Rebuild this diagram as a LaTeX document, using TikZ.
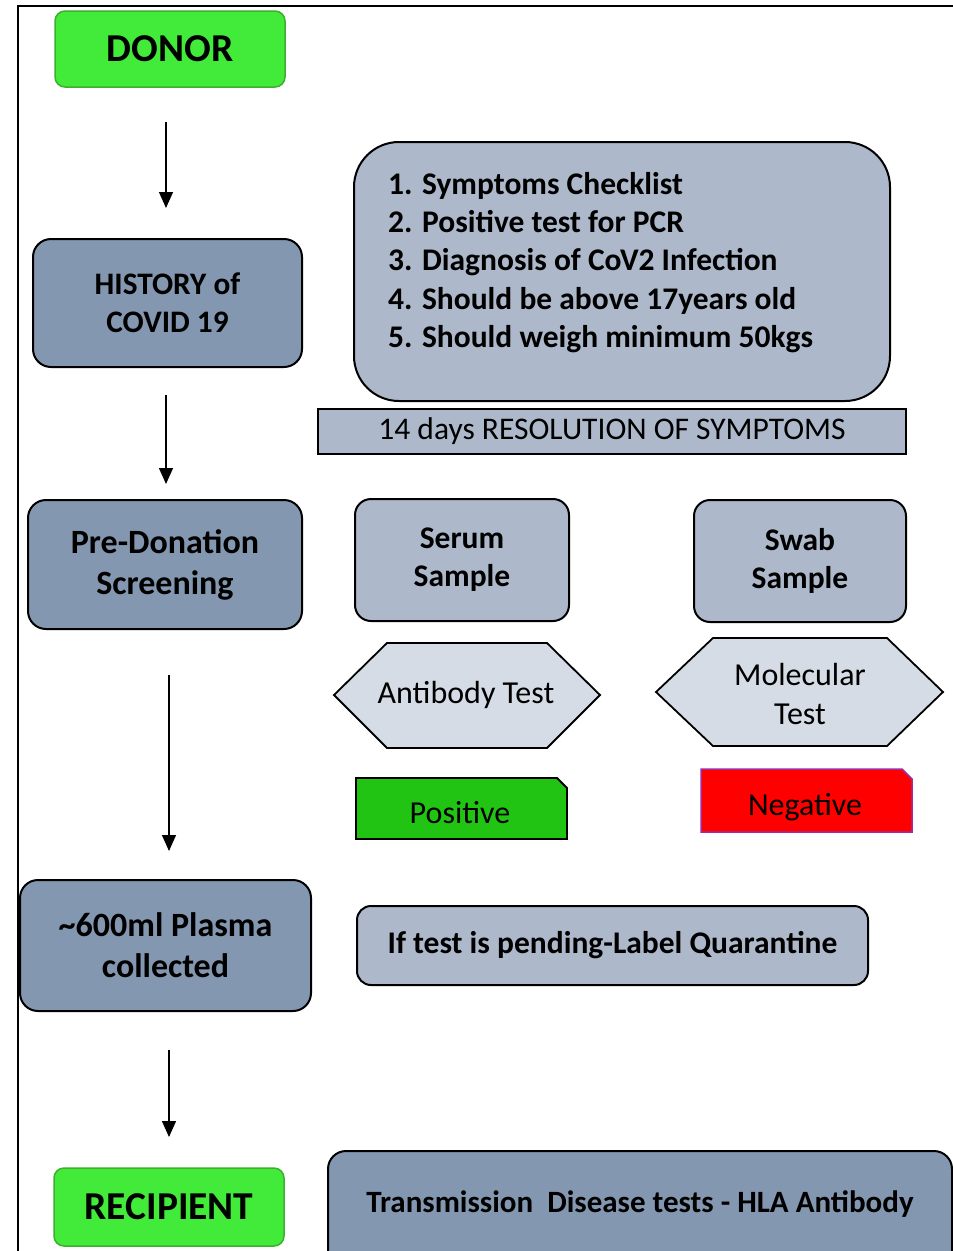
\documentclass[tikz,border=0pt]{standalone}
\usepackage{fontspec}
\setmainfont{Carlito}
\usetikzlibrary{arrows.meta}
\definecolor{dgreen}{RGB}{66,235,58}
\definecolor{dgreenb}{RGB}{60,175,46}
\definecolor{pgreen}{RGB}{34,196,20}
\definecolor{slate}{RGB}{132,151,176}
\definecolor{light}{RGB}{173,185,202}
\definecolor{hexfill}{RGB}{214,220,229}
\definecolor{negborder}{RGB}{160,44,160}
\tikzset{
  greenbox/.style={draw=dgreenb, fill=dgreen, line width=1.5pt, rounded corners=10pt, font=\fontsize{39.5}{45}\selectfont\bfseries, inner sep=0pt},
  darkbox/.style={draw=black, fill=slate, line width=2pt, rounded corners=18pt, align=center, inner sep=0pt},
  lightbox/.style={draw=black, fill=light, line width=2pt, rounded corners=16pt, align=center, inner sep=0pt, font=\fontsize{31.5}{38}\selectfont\bfseries},
  bodytxt/.style={font=\fontsize{32}{39}\selectfont, align=center, inner sep=0pt},
  arr/.style={line width=1.3pt, -{Triangle[length=16pt,width=14pt]}},
  hexshape/.style={draw=black, fill=hexfill, line width=1.8pt, line join=miter},
}
\begin{document}
\begin{tikzpicture}[x=1pt,y=-1pt]
\clip (0,0) rectangle (953,1251);
\fill[white] (0,0) rectangle (953,1251);
% frame
\draw[line width=2pt] (18,1260) -- (18,6) -- (960,6);

% left column
\node[greenbox, minimum width=230pt, minimum height=76pt] (donor) at (170,49) {DONOR};
\node[darkbox, minimum width=269pt, minimum height=128pt, font=\fontsize{31.3}{38}\selectfont\bfseries] (history) at (167.5,303) {HISTORY of\\COVID 19};
\node[darkbox, minimum width=274pt, minimum height=129pt, font=\fontsize{34}{41}\selectfont\bfseries] (pre) at (165,564.5) {Pre-Donation\\Screening};
\node[darkbox, minimum width=291pt, minimum height=131pt, font=\fontsize{34}{41}\selectfont\bfseries] (plasma) at (165.5,945.5) {\textasciitilde600ml Plasma\\collected};
\node[greenbox, minimum width=230pt, minimum height=78pt] (recipient) at (169,1207) {RECIPIENT};

% arrows
\coordinate (a1s) at (166,122); \coordinate (a1e) at (166,208);
\coordinate (a2s) at (166,395); \coordinate (a2e) at (166,484);
\coordinate (a3s) at (169,675); \coordinate (a3e) at (169,851);
\coordinate (a4s) at (169,1050); \coordinate (a4e) at (169,1137);
\draw[arr] (a1s) -- (a1e);
\draw[arr] (a2s) -- (a2e);
\draw[arr] (a3s) -- (a3e);
\draw[arr] (a4s) -- (a4e);

% criteria box
\node[lightbox, rounded corners=45pt, minimum width=536pt, minimum height=259pt] (crit) at (622,271.5) {};
\node[font=\fontsize{31.5}{38.3}\selectfont\bfseries, align=left, inner sep=0pt, anchor=west] (crittext) at (388,262.5)
  {1. Symptoms Checklist\\2. Positive test for PCR\\3. Diagnosis of CoV2 Infection\\4. Should be above 17years old\\5. Should weigh minimum 50kgs};
\node[draw=black, fill=light, line width=2pt, minimum width=588pt, minimum height=45pt, bodytxt, font=\fontsize{31.5}{38}\selectfont] (days) at (612,431.5) {14 days RESOLUTION OF SYMPTOMS};

% samples
\node[lightbox, minimum width=214pt, minimum height=122pt] (serum) at (462,560) {Serum\\Sample};
\node[lightbox, minimum width=212pt, minimum height=122pt] (swab) at (800,561) {Swab\\Sample};

% hexagons
\draw[hexshape] (334,695) -- (387,643) -- (547,643) -- (600,695) -- (547,748) -- (387,748) -- cycle;
\node[bodytxt] (antibody) at (466,695) {Antibody Test};
\draw[hexshape] (656,692) -- (713,638) -- (887,638) -- (943,692) -- (887,746) -- (713,746) -- cycle;
\node[bodytxt] (molecular) at (800,694) {Molecular\\Test};

% results
\draw[draw=black, fill=pgreen, line width=1.8pt, line join=miter] (356,778) -- (557,778) -- (567,788) -- (567,839) -- (356,839) -- cycle;
\node[bodytxt] (positive) at (460,813) {Positive};
\draw[draw=negborder, fill=red, line width=1.5pt, line join=miter] (701,769) -- (902,769) -- (912,779) -- (912,832) -- (701,832) -- cycle;
\node[bodytxt] (negative) at (805,807) {Negative};

% pending
\node[lightbox, rounded corners=14pt, minimum width=511pt, minimum height=79pt] (pending) at (612.5,945.5) {If test is pending-Label Quarantine};

% transmission
\node[darkbox, minimum width=624pt, minimum height=125pt, anchor=north west] (trans) at (327,1150) {};
\node[font=\fontsize{31}{38}\selectfont\bfseries, inner sep=0pt] (transtext) at (640,1204) {Transmission\ \ Disease tests - HLA Antibody};
\end{tikzpicture}
\end{document}
